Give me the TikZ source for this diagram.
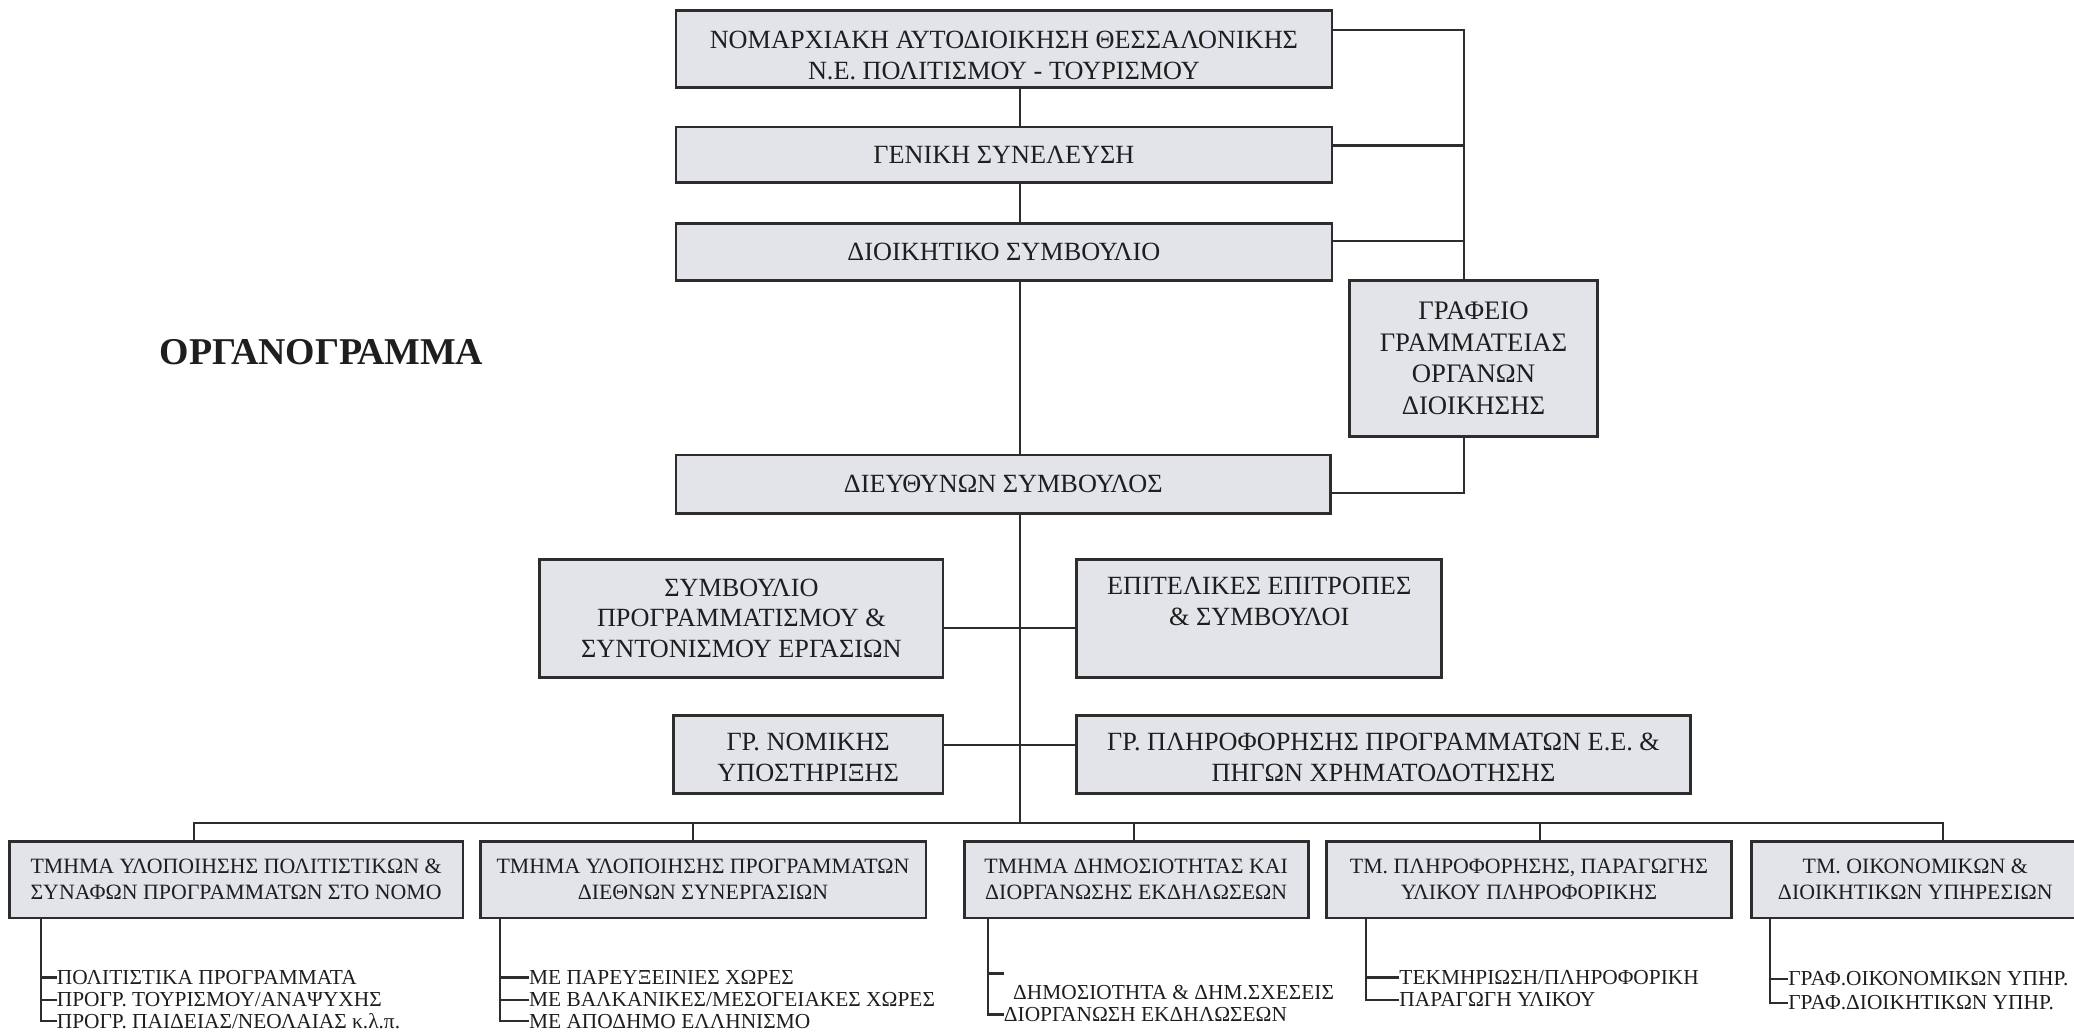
\documentclass[tikz,border=0pt]{standalone}
\usepackage{fontspec}
\setmainfont{Liberation Serif}
\definecolor{boxfill}{RGB}{226,228,233}
\definecolor{linec}{RGB}{45,45,45}
\definecolor{txt}{RGB}{30,30,30}
\begin{document}
\begin{tikzpicture}[x=0.02cm, y=-0.02cm,
  box/.style={draw=linec, line width=1.2pt, fill=boxfill, inner sep=0pt, outer sep=0pt,
              align=center, text=txt, font=\fontsize{11.3}{13.2}\selectfont},
  lowbox/.style={box, font=\fontsize{9.4}{11.2}\selectfont},
  conn/.style={draw=linec, line width=0.9pt},
  item/.style={anchor=west, inner sep=0pt, outer sep=0pt, text=txt, font=\fontsize{9.2}{11}\selectfont}]
\useasboundingbox (0,0) rectangle (1568,782);

% title
\node[text=txt, font=\bfseries\fontsize{16.3}{19}\selectfont] (title) at (243,266) {ΟΡΓΑΝΟΓΡΑΜΜΑ};

% upper boxes
\node[box, minimum width=496*0.02cm, minimum height=58*0.02cm] (top) at (759,37)
  {\rule{0pt}{13pt}ΝΟΜΑΡΧΙΑΚΗ ΑΥΤΟΔΙΟΙΚΗΣΗ ΘΕΣΣΑΛΟΝΙΚΗΣ\\Ν.Ε. ΠΟΛΙΤΙΣΜΟΥ - ΤΟΥΡΙΣΜΟΥ};
\node[box, minimum width=496*0.02cm, minimum height=42*0.02cm] (gs) at (759,117) {ΓΕΝΙΚΗ ΣΥΝΕΛΕΥΣΗ};
\node[box, minimum width=496*0.02cm, minimum height=43*0.02cm] (ds) at (759,190.5) {ΔΙΟΙΚΗΤΙΚΟ ΣΥΜΒΟΥΛΙΟ};
\node[box, minimum width=188*0.02cm, minimum height=118*0.02cm, font=\fontsize{11.5}{13.6}\selectfont] (gr) at (1114,271)
  {ΓΡΑΦΕΙΟ\\ΓΡΑΜΜΑΤΕΙΑΣ\\ΟΡΓΑΝΩΝ\\ΔΙΟΙΚΗΣΗΣ};
\node[box, minimum width=495*0.02cm, minimum height=44*0.02cm] (dir) at (758.5,366) {ΔΙΕΥΘΥΝΩΝ ΣΥΜΒΟΥΛΟΣ};

% middle boxes
\node[box, minimum width=305*0.02cm, minimum height=89*0.02cm] (sp) at (560.5,467.5)
  {ΣΥΜΒΟΥΛΙΟ\\ΠΡΟΓΡΑΜΜΑΤΙΣΜΟΥ \&\\ΣΥΝΤΟΝΙΣΜΟΥ ΕΡΓΑΣΙΩΝ};
\node[box, minimum width=276*0.02cm, minimum height=89*0.02cm] (ep) at (952,467.5)
  {ΕΠΙΤΕΛΙΚΕΣ ΕΠΙΤΡΟΠΕΣ\\\& ΣΥΜΒΟΥΛΟΙ\rule[-14.5pt]{0pt}{1pt}};
\node[box, minimum width=204*0.02cm, minimum height=59*0.02cm] (gn) at (611,570.5)
  {\rule{0pt}{10pt}ΓΡ. ΝΟΜΙΚΗΣ\\ΥΠΟΣΤΗΡΙΞΗΣ};
\node[box, minimum width=464*0.02cm, minimum height=59*0.02cm] (gp) at (1046,570.5)
  {\rule{0pt}{10pt}ΓΡ. ΠΛΗΡΟΦΟΡΗΣΗΣ ΠΡΟΓΡΑΜΜΑΤΩΝ Ε.Ε. \&\\ΠΗΓΩΝ ΧΡΗΜΑΤΟΔΟΤΗΣΗΣ};

% lower boxes
\node[lowbox, minimum width=343*0.02cm, minimum height=58*0.02cm] (b1) at (178.5,665)
  {ΤΜΗΜΑ ΥΛΟΠΟΙΗΣΗΣ ΠΟΛΙΤΙΣΤΙΚΩΝ \&\\ΣΥΝΑΦΩΝ ΠΡΟΓΡΑΜΜΑΤΩΝ ΣΤΟ ΝΟΜΟ};
\node[lowbox, minimum width=337*0.02cm, minimum height=58*0.02cm] (b2) at (531.5,665)
  {ΤΜΗΜΑ ΥΛΟΠΟΙΗΣΗΣ ΠΡΟΓΡΑΜΜΑΤΩΝ\\ΔΙΕΘΝΩΝ ΣΥΝΕΡΓΑΣΙΩΝ};
\node[lowbox, minimum width=260*0.02cm, minimum height=58*0.02cm] (b3) at (859,665)
  {ΤΜΗΜΑ ΔΗΜΟΣΙΟΤΗΤΑΣ ΚΑΙ\\ΔΙΟΡΓΑΝΩΣΗΣ ΕΚΔΗΛΩΣΕΩΝ};
\node[lowbox, minimum width=306*0.02cm, minimum height=58*0.02cm] (b4) at (1156,665)
  {ΤΜ. ΠΛΗΡΟΦΟΡΗΣΗΣ, ΠΑΡΑΓΩΓΗΣ\\ΥΛΙΚΟΥ ΠΛΗΡΟΦΟΡΙΚΗΣ};
\node[lowbox, minimum width=248*0.02cm, minimum height=58*0.02cm] (b5) at (1448,665)
  {ΤΜ. ΟΙΚΟΝΟΜΙΚΩΝ \&\\ΔΙΟΙΚΗΤΙΚΩΝ ΥΠΗΡΕΣΙΩΝ};

% helper coordinates
\coordinate (cl) at (771,0);
\coordinate (rx) at (1107,0);
\coordinate (y1) at (0,23);
\coordinate (y2) at (0,110);
\coordinate (y3) at (0,182);
\coordinate (y4) at (0,373);
\coordinate (y5) at (0,475);
\coordinate (y6) at (0,563);
\coordinate (bus) at (0,622);
\coordinate (d1) at (147,0);
\coordinate (d2) at (524,0);
\coordinate (d3) at (857,0);
\coordinate (d4) at (1164,0);
\coordinate (d5) at (1469,0);

% central spine
\draw[conn] (top.south -| cl) -- (gs.north -| cl);
\draw[conn] (gs.south -| cl) -- (ds.north -| cl);
\draw[conn] (ds.south -| cl) -- (dir.north -| cl);
\draw[conn] (dir.south -| cl) -- (cl |- bus);

% right-hand connector
\draw[conn] (top.east |- y1) -| (gr.north -| rx);
\draw[conn] (gs.east |- y2) -- (rx |- y2);
\draw[conn] (ds.east |- y3) -- (rx |- y3);
\draw[conn] (gr.south -| rx) |- (dir.east |- y4);

% middle side connectors
\draw[conn] (sp.east |- y5) -- (ep.west |- y5);
\draw[conn] (gn.east |- y6) -- (gp.west |- y6);

% bus
\draw[conn] (b1.north -| d1) |- (d5 |- bus) -- (b5.north -| d5);
\draw[conn] (d2 |- bus) -- (b2.north -| d2);
\draw[conn] (d3 |- bus) -- (b3.north -| d3);
\draw[conn] (d4 |- bus) -- (b4.north -| d4);

% sub items B1
\coordinate (s1) at (31,0);
\node[item] (i11) at (43,739) {ΠΟΛΙΤΙΣΤΙΚΑ ΠΡΟΓΡΑΜΜΑΤΑ};
\node[item] (i12) at (43,756) {ΠΡΟΓΡ. ΤΟΥΡΙΣΜΟΥ/ΑΝΑΨΥΧΗΣ};
\node[item] (i13) at (43,772) {ΠΡΟΓΡ. ΠΑΙΔΕΙΑΣ/ΝΕΟΛΑΙΑΣ κ.λ.π.};
\draw[conn] (b1.south -| s1) |- (i13.west);
\draw[conn] (s1 |- i11.west) -- (i11.west);
\draw[conn] (s1 |- i12.west) -- (i12.west);

% sub items B2
\coordinate (s2) at (378,0);
\node[item] (i21) at (400,739) {ΜΕ ΠΑΡΕΥΞΕΙΝΙΕΣ ΧΩΡΕΣ};
\node[item] (i22) at (400,756) {ΜΕ ΒΑΛΚΑΝΙΚΕΣ/ΜΕΣΟΓΕΙΑΚΕΣ ΧΩΡΕΣ};
\node[item] (i23) at (400,772) {ΜΕ ΑΠΟΔΗΜΟ ΕΛΛΗΝΙΣΜΟ};
\draw[conn] (b2.south -| s2) |- (i23.west);
\draw[conn] (s2 |- i21.west) -- (i21.west);
\draw[conn] (s2 |- i22.west) -- (i22.west);

% sub items B3
\coordinate (s3) at (747,0);
\coordinate (t30) at (759,736);
\node[item] (i31) at (766,750) {ΔΗΜΟΣΙΟΤΗΤΑ \& ΔΗΜ.ΣΧΕΣΕΙΣ};
\node[item] (i32) at (759,767) {ΔΙΟΡΓΑΝΩΣΗ ΕΚΔΗΛΩΣΕΩΝ};
\draw[conn] (b3.south -| s3) |- (i32.west);
\draw[conn] (s3 |- t30) -- (t30);

% sub items B4
\coordinate (s4) at (1033,0);
\node[item] (i41) at (1058,739) {ΤΕΚΜΗΡΙΩΣΗ/ΠΛΗΡΟΦΟΡΙΚΗ};
\node[item] (i42) at (1058,756) {ΠΑΡΑΓΩΓΗ ΥΛΙΚΟΥ};
\draw[conn] (b4.south -| s4) |- (i42.west);
\draw[conn] (s4 |- i41.west) -- (i41.west);

% sub items B5
\coordinate (s5) at (1338,0);
\node[item] (i51) at (1352,740) {ΓΡΑΦ.ΟΙΚΟΝΟΜΙΚΩΝ ΥΠΗΡ.};
\node[item] (i52) at (1352,758) {ΓΡΑΦ.ΔΙΟΙΚΗΤΙΚΩΝ ΥΠΗΡ.};
\draw[conn] (b5.south -| s5) |- (i52.west);
\draw[conn] (s5 |- i51.west) -- (i51.west);
\end{tikzpicture}
\end{document}
